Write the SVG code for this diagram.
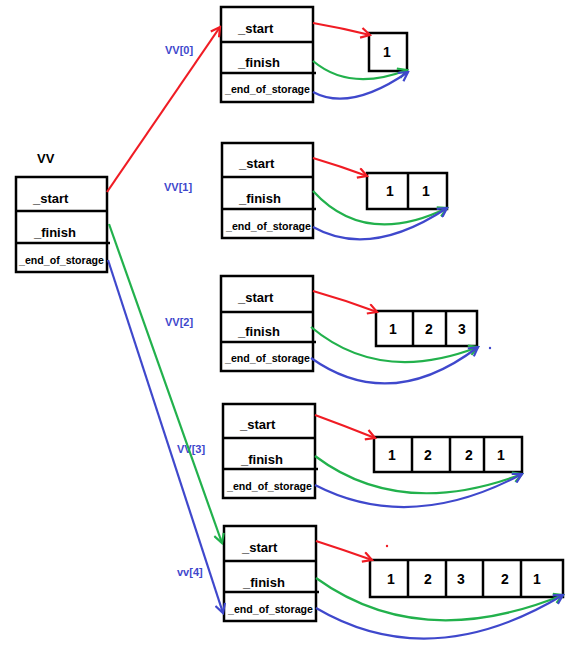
<svg xmlns="http://www.w3.org/2000/svg" width="586" height="656" viewBox="0 0 586 656">
  <style>
    .box { fill: none; stroke: #000; stroke-width: 2.5; }
    .fld { font-family: "Liberation Sans", Arial, sans-serif; font-weight: bold; font-size: 13px; fill: #000; }
    .eos { font-family: "Liberation Sans", Arial, sans-serif; font-weight: bold; font-size: 11px; fill: #000; }
    .num { font-family: "Liberation Sans", Arial, sans-serif; font-weight: bold; font-size: 14px; fill: #000; text-anchor: middle; }
    .lbl { font-family: "Liberation Sans", Arial, sans-serif; font-weight: bold; font-size: 11px; fill: #3f48cc; }
    .red { fill: none; stroke: #f01c24; stroke-width: 2.2; marker-end: url(#hr); }
    .grn { fill: none; stroke: #22b14c; stroke-width: 2.2; marker-end: url(#hg); }
    .blu { fill: none; stroke: #3f48cc; stroke-width: 2.2; marker-end: url(#hb); }
  </style>
  <defs>
    <marker id="hr" viewBox="-10 -6 12 12" refX="0" refY="0" markerWidth="12" markerHeight="12" markerUnits="userSpaceOnUse" orient="auto">
      <path d="M-9,-5 L0,0 L-9,5" fill="none" stroke="#f01c24" stroke-width="2.2"/>
    </marker>
    <marker id="hg" viewBox="-10 -6 12 12" refX="0" refY="0" markerWidth="12" markerHeight="12" markerUnits="userSpaceOnUse" orient="auto">
      <path d="M-9,-5 L0,0 L-9,5" fill="none" stroke="#22b14c" stroke-width="2.2"/>
    </marker>
    <marker id="hb" viewBox="-10 -6 12 12" refX="0" refY="0" markerWidth="12" markerHeight="12" markerUnits="userSpaceOnUse" orient="auto">
      <path d="M-9,-5 L0,0 L-9,5" fill="none" stroke="#3f48cc" stroke-width="2.2"/>
    </marker>
  </defs>
  <rect width="586" height="656" fill="#fff"/>

  <!-- outer vector object -->
  <g id="vv">
    <text x="37" y="163" class="fld" font-size="12">VV</text>
    <rect x="16" y="177" width="91" height="95" class="box"/>
    <line x1="16" y1="211" x2="107" y2="211" class="box"/>
    <line x1="16" y1="243" x2="110" y2="243" class="box"/>
    <text x="33" y="203" class="fld">_start</text>
    <text x="34" y="237" class="fld">_finish</text>
    <text x="19" y="264" class="eos" textLength="85" lengthAdjust="spacingAndGlyphs">_end_of_storage</text>
  </g>

  <!-- inner vectors -->
  <g id="vv0">
    <text x="165" y="54" class="lbl">VV[0]</text>
    <rect x="221" y="7" width="92" height="95" class="box"/>
    <line x1="221" y1="42" x2="313" y2="42" class="box"/>
    <line x1="221" y1="73" x2="316" y2="73" class="box"/>
    <text x="238" y="33" class="fld">_start</text>
    <text x="238" y="67" class="fld">_finish</text>
    <text x="225" y="93" class="eos" textLength="85" lengthAdjust="spacingAndGlyphs">_end_of_storage</text>
  </g>
  <g id="vv0-data">
    <rect x="369" y="33" width="38" height="38" class="box"/>
    <text x="387" y="57" class="num">1</text>
  </g>

  <g id="vv1">
    <text x="164" y="191" class="lbl">VV[1]</text>
    <rect x="222" y="143" width="91" height="95" class="box"/>
    <line x1="222" y1="177" x2="313" y2="177" class="box"/>
    <line x1="222" y1="209" x2="316" y2="209" class="box"/>
    <text x="239" y="168" class="fld">_start</text>
    <text x="239" y="203" class="fld">_finish</text>
    <text x="226" y="230" class="eos" textLength="85" lengthAdjust="spacingAndGlyphs">_end_of_storage</text>
  </g>
  <g id="vv1-data">
    <rect x="367" y="173" width="80" height="36" class="box"/>
    <line x1="408" y1="173" x2="408" y2="209" class="box"/>
    <text x="390" y="196" class="num">1</text>
    <text x="426" y="196" class="num">1</text>
  </g>

  <g id="vv2">
    <text x="165" y="326" class="lbl">VV[2]</text>
    <rect x="221" y="276" width="92" height="95" class="box"/>
    <line x1="221" y1="312" x2="313" y2="312" class="box"/>
    <line x1="221" y1="342" x2="316" y2="342" class="box"/>
    <text x="238" y="302" class="fld">_start</text>
    <text x="238" y="336" class="fld">_finish</text>
    <text x="225" y="362" class="eos" textLength="85" lengthAdjust="spacingAndGlyphs">_end_of_storage</text>
  </g>
  <g id="vv2-data">
    <rect x="376" y="311" width="101" height="35" class="box"/>
    <line x1="413" y1="311" x2="413" y2="346" class="box"/>
    <line x1="446" y1="311" x2="446" y2="346" class="box"/>
    <text x="393" y="334" class="num">1</text>
    <text x="429" y="334" class="num">2</text>
    <text x="462" y="334" class="num">3</text>
  </g>

  <g id="vv3">
    <text x="177" y="453" class="lbl">VV[3]</text>
    <rect x="223" y="404" width="92" height="94" class="box"/>
    <line x1="223" y1="438" x2="315" y2="438" class="box"/>
    <line x1="223" y1="469" x2="318" y2="469" class="box"/>
    <text x="240" y="429" class="fld">_start</text>
    <text x="241" y="464" class="fld">_finish</text>
    <text x="227" y="490" class="eos" textLength="85" lengthAdjust="spacingAndGlyphs">_end_of_storage</text>
  </g>
  <g id="vv3-data">
    <rect x="374" y="437" width="148" height="35" class="box"/>
    <line x1="412" y1="437" x2="412" y2="472" class="box"/>
    <line x1="450" y1="437" x2="450" y2="472" class="box"/>
    <line x1="484" y1="437" x2="484" y2="472" class="box"/>
    <text x="392" y="460" class="num">1</text>
    <text x="428" y="460" class="num">2</text>
    <text x="469" y="460" class="num">2</text>
    <text x="501" y="460" class="num">1</text>
  </g>

  <g id="vv4">
    <text x="177" y="576" class="lbl">vv[4]</text>
    <rect x="224" y="526" width="92" height="95" class="box"/>
    <line x1="224" y1="561" x2="316" y2="561" class="box"/>
    <line x1="224" y1="592" x2="319" y2="592" class="box"/>
    <text x="242" y="552" class="fld">_start</text>
    <text x="243" y="587" class="fld">_finish</text>
    <text x="228" y="613" class="eos" textLength="85" lengthAdjust="spacingAndGlyphs">_end_of_storage</text>
  </g>
  <g id="vv4-data">
    <rect x="370" y="560" width="193" height="37" class="box"/>
    <line x1="408" y1="560" x2="408" y2="597" class="box"/>
    <line x1="446" y1="560" x2="446" y2="597" class="box"/>
    <line x1="483" y1="560" x2="483" y2="597" class="box"/>
    <line x1="521" y1="560" x2="521" y2="597" class="box"/>
    <text x="391" y="584" class="num">1</text>
    <text x="428" y="584" class="num">2</text>
    <text x="461" y="584" class="num">3</text>
    <text x="505" y="584" class="num">2</text>
    <text x="537" y="584" class="num">1</text>
  </g>

  <!-- stray marks -->
  <circle cx="490" cy="348" r="1.2" fill="#3f48cc"/>
  <circle cx="387" cy="546" r="1.2" fill="#f01c24"/>

  <g id="connectors">
    <!-- outer pointers into the element array -->
    <path d="M107,192 L220,27" class="red"/>
    <path d="M109,224 L222,543" class="grn"/>
    <path d="M108,260 L223,613" class="blu"/>

    <!-- vv[0] -->
    <path d="M313,23 Q342,28 370,35" class="red"/>
    <path d="M313,61 Q350,92 407,70" class="grn"/>
    <path d="M313,92 Q350,112 408,72" class="blu"/>

    <!-- vv[1] -->
    <path d="M313,158 Q340,166 367,176" class="red"/>
    <path d="M313,191 Q365,248 447,208" class="grn"/>
    <path d="M313,227 Q370,259 447,208" class="blu"/>

    <!-- vv[2] -->
    <path d="M313,291 Q345,300 377,312" class="red"/>
    <path d="M311,327 Q380,385 478,347" class="grn"/>
    <path d="M311,358 Q390,414 478,347" class="blu"/>

    <!-- vv[3] -->
    <path d="M315,415 Q345,426 375,438" class="red"/>
    <path d="M315,456 Q400,520 522,474" class="grn"/>
    <path d="M315,485 Q410,534 522,474" class="blu"/>

    <!-- vv[4] -->
    <path d="M316,541 Q344,550 372,560" class="red"/>
    <path d="M316,578 Q420,653 563,595" class="grn"/>
    <path d="M316,608 Q430,675 563,595" class="blu"/>
  </g>
</svg>
